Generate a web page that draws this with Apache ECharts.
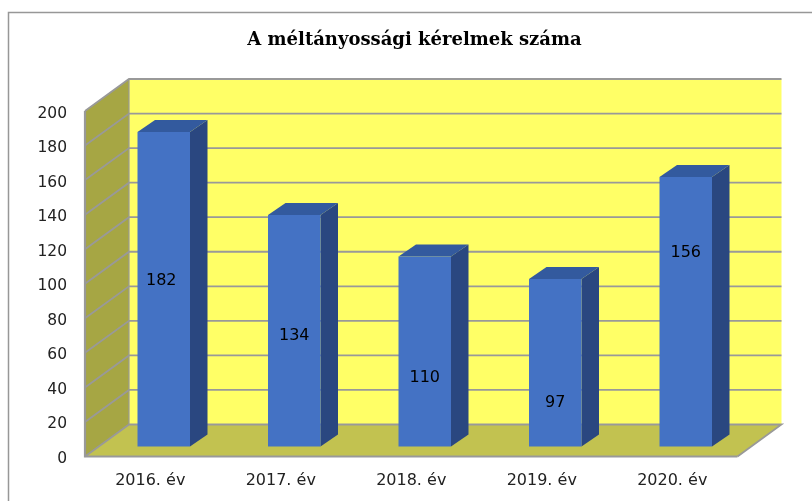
<!DOCTYPE html>
<html>
<head>
<meta charset="utf-8">
<style>html,body{margin:0;padding:0;background:#fff;overflow:hidden}#c{width:812px;height:501px}</style>
<script src="https://cdn.jsdelivr.net/npm/echarts@6/dist/echarts.min.js"></script>
</head>
<body>
<div id="c"></div>
<script>
var categories = ['2016. év', '2017. év', '2018. év', '2019. év', '2020. év'];
var values = [182, 134, 110, 97, 156];
var labelLevels = [96, 64, 40, 25, 112];
var gridTicks = [20, 40, 60, 80, 100, 120, 140, 160, 180, 200];

var DX = 44, DY = -32;
var BDX = 17.5, BDY = -12;
var OX = 13.5, OY = -10;
var BW = 52.5;
var GRID = '#999999';
var LABEL_SHIFT = [-2.5, 0, 0, 0, 0];

function poly(pts, fill, z) {
  return { type: 'polygon', shape: { points: pts }, style: { fill: fill, stroke: null }, z2: z || 0 };
}
function lines(pts, w, z) {
  return { type: 'polyline', shape: { points: pts }, style: { stroke: GRID, lineWidth: w, fill: null }, z2: z || 1 };
}
function renderWalls(params, api) {
  var cs = params.coordSys;
  var x0 = cs.x, x1 = cs.x + cs.width;
  var y0 = api.coord([0, 0])[1], yT = api.coord([0, 200])[1];
  var kids = [
    poly([[x0 + DX, yT + DY], [x1 + DX, yT + DY], [x1 + DX, y0 + DY], [x0 + DX, y0 + DY]], '#FFFF66'),
    poly([[x0, yT], [x0 + DX, yT + DY], [x0 + DX, y0 + DY], [x0, y0]], '#A6A644'),
    poly([[x0, y0], [x0 + DX, y0 + DY], [x1 + DX, y0 + DY], [x1, y0]], '#C2C250')
  ];
  gridTicks.forEach(function (t) {
    var y = api.coord([0, t])[1];
    kids.push(lines([[x0, y], [x0 + DX, y + DY], [x1 + DX, y + DY]], 1.8));
  });
  kids.push(lines([[x0, y0], [x0 + DX, y0 + DY], [x1 + DX, y0 + DY], [x1, y0]], 1.8));
  kids.push(lines([[x0, yT], [x0, y0], [x1, y0]], 2.2));
  kids.push(lines([[x0 + DX, y0 + DY], [x0 + DX, yT + DY]], 1.2));
  return { type: 'group', children: kids };
}
function renderBar(params, api) {
  var c = api.coord([api.value(0), api.value(1)]);
  var b = api.coord([api.value(0), 0]);
  var l = api.coord([api.value(0), api.value(2)]);
  var xl = c[0] + OX - BW / 2, xr = xl + BW;
  var yt = c[1] + OY, yb = b[1] + OY;
  return {
    type: 'group',
    children: [
      poly([[xr, yt], [xr + BDX, yt + BDY], [xr + BDX, yb + BDY], [xr, yb]], '#2A4780', 5),
      poly([[xl, yt], [xl + BDX, yt + BDY], [xr + BDX, yt + BDY], [xr, yt]], '#335A9E', 5),
      poly([[xl, yt], [xr, yt], [xr, yb], [xl, yb]], '#4472C4', 5),
      {
        type: 'text', z2: 10,
        style: {
          text: String(api.value(1)), x: c[0] + OX + LABEL_SHIFT[params.dataIndex], y: l[1] + OY,
          align: 'center', verticalAlign: 'middle',
          font: '16px "DejaVu Sans"', fill: '#000'
        }
      }
    ]
  };
}
var chart = echarts.init(document.getElementById('c'), null, { renderer: 'canvas' });
chart.setOption({
  animation: false,
  backgroundColor: '#fff',
  title: {
    text: 'A méltányossági kérelmek száma',
    left: 409.5, top: 26, textAlign: 'center',
    textStyle: { fontFamily: 'DejaVu Serif', fontWeight: 'bold', fontSize: 18, color: '#000' }
  },
  graphic: [{
    type: 'rect', z: -1, silent: true,
    shape: { x: 8.5, y: 12.5, width: 900, height: 600 },
    style: { fill: '#fff', stroke: '#979797', lineWidth: 1.5 }
  }],
  grid: { left: 85, right: 74.5, top: 111, bottom: 44.5 },
  xAxis: {
    type: 'category', data: categories,
    axisLine: { show: false }, axisTick: { show: false }, splitLine: { show: false },
    axisLabel: { margin: 16, fontFamily: 'DejaVu Sans', fontSize: 16, color: '#222' }
  },
  yAxis: {
    type: 'value', min: 0, max: 200, interval: 20,
    axisLine: { show: false }, axisTick: { show: false }, splitLine: { show: false },
    axisLabel: {
      margin: 18,
      formatter: '{t|{value}}',
      rich: { t: { fontFamily: 'DejaVu Sans', fontSize: 15.5, color: '#222', padding: [5, 0, 0, 0] } }
    }
  },
  series: [
    { type: 'custom', name: 'walls', renderItem: renderWalls, data: [[0, 0]], silent: true, z: 1 },
    {
      type: 'custom', name: 'Kérelmek', z: 2, silent: true,
      renderItem: renderBar,
      encode: { x: 0, y: 1 },
      data: values.map(function (v, i) { return [i, v, labelLevels[i]]; })
    }
  ]
});
</script>
</body>
</html>
